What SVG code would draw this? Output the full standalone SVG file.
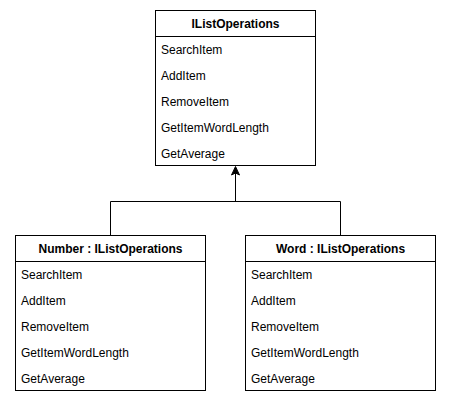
<svg xmlns="http://www.w3.org/2000/svg" width="451" height="404" viewBox="0 0 451 404">
<style>
.box{fill:#ffffff;stroke:#000000;stroke-width:1}
.hd{font-family:"Liberation Sans",Arial,sans-serif;font-size:12px;font-weight:bold;fill:#000;text-anchor:middle}
.it{font-family:"Liberation Sans",Arial,sans-serif;font-size:12px;fill:#000}
.ln{fill:none;stroke:#000;stroke-width:1}
</style>
<rect width="451" height="404" fill="#ffffff"/>
<g id="connectors">
<path class="ln" d="M110.5 235.5 V201.5 H340.5 V235.5"/>
<path class="ln" d="M235.5 201.5 V172"/>
<path d="M235.5 166.5 L239.5 175 L235.5 173 L231.5 175 Z" fill="#000" stroke="#000" stroke-width="1"/>
</g>
<g id="IListOperations">
<rect class="box" x="155.5" y="10.5" width="160" height="155"/>
<line class="ln" x1="155.5" y1="36.5" x2="315.5" y2="36.5"/>
<text class="hd" x="235.5" y="28">IListOperations</text>
<text class="it" x="161" y="54">SearchItem</text>
<text class="it" x="161" y="80">AddItem</text>
<text class="it" x="161" y="106">RemoveItem</text>
<text class="it" x="161" y="132">GetItemWordLength</text>
<text class="it" x="161" y="158">GetAverage</text>
</g>
<g id="Number">
<rect class="box" x="15.5" y="235.5" width="190" height="155"/>
<line class="ln" x1="15.5" y1="261.5" x2="205.5" y2="261.5"/>
<text class="hd" x="110.5" y="253">Number : IListOperations</text>
<text class="it" x="21" y="279">SearchItem</text>
<text class="it" x="21" y="305">AddItem</text>
<text class="it" x="21" y="331">RemoveItem</text>
<text class="it" x="21" y="357">GetItemWordLength</text>
<text class="it" x="21" y="383">GetAverage</text>
</g>
<g id="Word">
<rect class="box" x="245.5" y="235.5" width="190" height="155"/>
<line class="ln" x1="245.5" y1="261.5" x2="435.5" y2="261.5"/>
<text class="hd" x="340.5" y="253">Word : IListOperations</text>
<text class="it" x="251" y="279">SearchItem</text>
<text class="it" x="251" y="305">AddItem</text>
<text class="it" x="251" y="331">RemoveItem</text>
<text class="it" x="251" y="357">GetItemWordLength</text>
<text class="it" x="251" y="383">GetAverage</text>
</g>
</svg>
